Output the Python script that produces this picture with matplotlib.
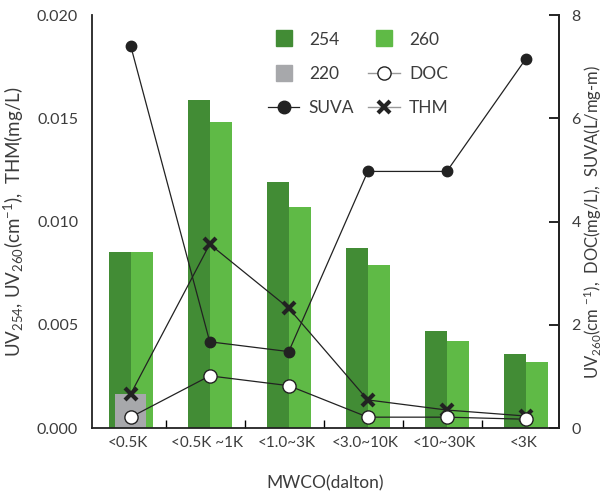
import matplotlib
matplotlib.use("Agg")
import matplotlib.pyplot as plt
from matplotlib.lines import Line2D
import numpy as np

plt.rcParams['font.family'] = ['Lato', 'DejaVu Sans']
plt.rcParams['mathtext.fontset'] = 'custom'
plt.rcParams['mathtext.rm'] = 'Lato'
plt.rcParams['mathtext.it'] = 'Lato'
plt.rcParams['mathtext.default'] = 'rm'

categories = ["<0.5K", "<0.5K ~1K", "<1.0~3K", "<3.0~10K", "<10~30K", "<3K"]
uv254 = [0.0085, 0.0159, 0.0119, 0.0087, 0.0047, 0.0036]
uv260 = [0.0085, 0.0148, 0.0107, 0.0079, 0.0042, 0.0032]
uv220 = [0.00165]  # only first fraction
thm = [0.00165, 0.0089, 0.0058, 0.00136, 0.00087, 0.00058]
suva = [7.4, 1.67, 1.48, 4.97, 4.97, 7.15]
doc = [0.21, 1.01, 0.82, 0.21, 0.21, 0.17]

c254 = "#428c35"
c260 = "#5fba46"
c220 = "#a7a8ab"
txt = "#3c3c3c"
lc = "#222222"

fig = plt.figure(figsize=(6.03, 4.94), dpi=100)
ax = fig.add_axes([0.1526, 0.1336, 0.927 - 0.1526, 0.9696 - 0.1336])
ax2 = ax.twinx()
ax.set_zorder(ax2.get_zorder() + 1)
ax.patch.set_visible(False)

x = np.arange(len(categories))
w = 0.28
ax.bar(x - w / 2, uv254, width=w, color=c254, zorder=1)
ax.bar(x + w / 2, uv260, width=w, color=c260, zorder=1)
ax.bar(x[:1], uv220, width=0.39, color=c220, zorder=2)

ax.set_xlim(-0.49, 5.42)
ax.set_ylim(0, 0.020)
ax2.set_ylim(0, 8)

# THM on left axis; SUVA & DOC belong to the right axis (0-8 maps onto 0-0.020)
ax.plot(x, thm, color=lc, lw=0.9, marker='x', ms=9, mew=3, mec=lc, zorder=5)
ax.plot(x, np.array(suva) * (0.020 / 8.0), color=lc, lw=0.9, marker='o', ms=7.5,
        mfc=lc, mec=lc, zorder=5)
ax.plot(x, np.array(doc) * (0.020 / 8.0), color=lc, lw=0.9, marker='o', ms=9.5,
        mfc='white', mec=lc, mew=1.0, zorder=6)

ax.set_yticks([0, 0.005, 0.010, 0.015, 0.020])
ax.set_yticklabels(["0.000", "0.005", "0.010", "0.015", "0.020"])
ax.tick_params(axis='y', length=0, pad=10, labelsize=11.5, labelcolor=txt)
ax2.set_yticks([0, 2, 4, 6, 8])
ax2.tick_params(axis='y', direction='in', length=7, width=1.2, pad=9, labelsize=11.5, labelcolor=txt)

ax.set_xticks(x[:-1] + 0.445)
ax.set_xticklabels([])
ax.tick_params(axis='x', which='major', direction='in', length=6, width=1.0)
ax.set_xticks(x - 0.03, minor=True)
ax.set_xticklabels(categories, minor=True)
ax.tick_params(axis='x', which='minor', length=0, pad=6, labelsize=11, labelcolor=txt)

for a in (ax, ax2):
    a.spines['top'].set_visible(False)
    for s in a.spines.values():
        s.set_linewidth(1.3)
        s.set_color("#222222")
ax2.spines['left'].set_visible(False)
ax2.spines['bottom'].set_visible(False)

ax.set_xlabel("MWCO(dalton)", fontsize=12.5, color=txt, labelpad=18)
ax.set_ylabel("UV$_{254}$, UV$_{260}$(cm$^{-1}$),  THM(mg/L)", fontsize=13.5, color=txt, labelpad=8)
ax2.set_ylabel("UV$_{260}$(cm $^{-1}$),  DOC(mg/L),  SUVA(L/mg-m)", fontsize=12, color=txt)
ax2.yaxis.set_label_coords(1.049, 0.5)

handles = [
    Line2D([], [], ls='none', marker='s', ms=11, color=c254),
    Line2D([], [], ls='none', marker='s', ms=11, color=c220),
    Line2D([], [], color=lc, lw=0.9, marker='o', ms=9, mfc=lc, mec=lc),
    Line2D([], [], ls='none', marker='s', ms=11, color=c260),
    Line2D([], [], color="#999999", lw=1.0, marker='o', ms=9.5, mfc='white', mec=lc, mew=1.0),
    Line2D([], [], color="#999999", lw=1.0, marker='x', ms=9, mew=3, mec=lc),
]
labels = ["254", "220", "SUVA", "260", "DOC", "THM"]
leg = ax.legend(handles, labels, ncol=2, loc='upper left', bbox_to_anchor=(0.377, 0.96),
                frameon=False, fontsize=12.5, handlelength=1.8, handletextpad=0.55,
                columnspacing=0.8, labelspacing=1.05, borderaxespad=0, borderpad=0)
for t in leg.get_texts():
    t.set_color(txt)

fig.savefig("out.png", dpi=100)
